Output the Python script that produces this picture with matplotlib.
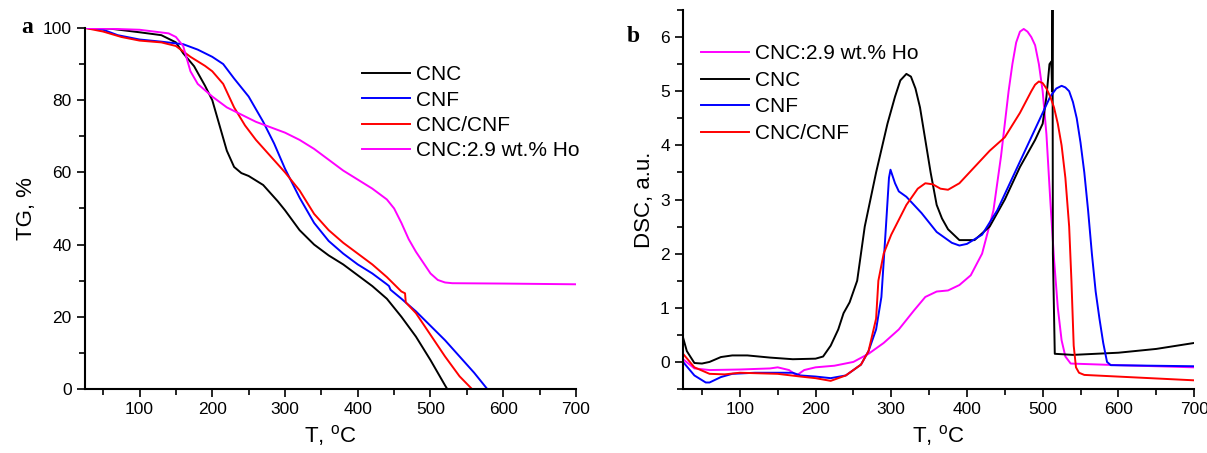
import matplotlib.pyplot as plt
from matplotlib.ticker import MultipleLocator
import numpy as np

plt.rcParams['font.family'] = ['Liberation Sans', 'DejaVu Sans']

# TG data (T in degC, TG in %)
tg_cnc_t = [25, 60, 100, 130, 150, 160, 175, 190, 200, 210, 220, 230, 240, 250, 270, 290, 300, 320, 340, 360, 380, 400, 420, 440, 460, 480, 500, 520, 523, 600, 700]
tg_cnc_y = [100, 99.8, 98.8, 98, 96, 93, 89.4, 84, 80, 73, 66, 61.5, 59.8, 59, 56.5, 52, 49.5, 44, 40, 37, 34.5, 31.5, 28.5, 25, 20, 14.5, 8, 1, 0, 0, 0]
tg_cnf_t = [25, 50, 70, 100, 130, 160, 180, 200, 215, 230, 250, 270, 285, 300, 310, 320, 340, 360, 380, 400, 420, 440, 443, 445, 460, 480, 500, 520, 540, 560, 578]
tg_cnf_y = [100, 99.5, 98, 96.8, 96.2, 95.5, 94, 92, 90, 86, 81, 74, 68, 61, 57, 53, 46, 41, 37.5, 34.5, 32, 29, 28.5, 27.5, 25, 21.5, 17.5, 13.5, 9, 4.5, 0]
tg_mix_t = [25, 50, 75, 100, 130, 150, 170, 190, 200, 215, 230, 245, 260, 280, 300, 320, 340, 360, 380, 400, 420, 440, 460, 465, 466, 480, 500, 520, 540, 557]
tg_mix_y = [100, 99, 97.5, 96.5, 96, 95, 92, 89.5, 88, 84.5, 78, 73, 69, 64.5, 60, 55, 48.5, 44, 40.5, 37.5, 34.5, 31, 27, 26.5, 24, 21, 15, 9, 3.5, 0]
tg_ho_t = [25, 100, 140, 150, 160, 170, 180, 200, 220, 240, 260, 280, 300, 320, 340, 360, 380, 400, 420, 440, 450, 460, 470, 480, 490, 500, 510, 520, 530, 600, 700]
tg_ho_y = [100, 99.5, 98.5, 97.5, 95, 88, 84.5, 81, 78, 76, 74, 72.5, 71, 69, 66.5, 63.5, 60.5, 58, 55.5, 52.5, 50, 46, 41.5, 38, 35, 32, 30.2, 29.5, 29.3, 29.2, 29]

# DSC data (a.u.)
dsc_cnc_t = [25, 30, 40, 50, 60, 75, 90, 110, 140, 170, 200, 210, 220, 230, 237, 245, 255, 265, 280, 295, 305, 312, 320, 326, 332, 338, 345, 352, 360, 367, 375, 390, 410, 430, 450, 470, 490, 500, 505, 509, 511.5, 512.5, 513, 513.5, 516, 540, 600, 650, 700]
dsc_cnc_y = [0.45, 0.2, -0.02, -0.03, 0.0, 0.09, 0.12, 0.12, 0.08, 0.05, 0.06, 0.1, 0.3, 0.6, 0.9, 1.1, 1.5, 2.5, 3.5, 4.4, 4.9, 5.2, 5.32, 5.27, 5.05, 4.7, 4.1, 3.5, 2.9, 2.65, 2.45, 2.25, 2.25, 2.5, 3.0, 3.6, 4.1, 4.4, 4.9, 5.5, 5.55, 5.0, 6.6, 2.0, 0.15, 0.13, 0.17, 0.24, 0.35]
dsc_cnf_t = [25, 40, 55, 60, 75, 90, 120, 170, 180, 200, 220, 240, 260, 270, 280, 287, 293, 297, 299, 305, 310, 320, 340, 360, 380, 390, 400, 420, 440, 460, 480, 500, 510, 518, 525, 530, 535, 540, 545, 550, 555, 560, 565, 570, 575, 580, 585, 590, 700]
dsc_cnf_y = [0.0, -0.25, -0.38, -0.38, -0.28, -0.22, -0.2, -0.2, -0.25, -0.27, -0.3, -0.25, -0.05, 0.2, 0.6, 1.2, 2.5, 3.4, 3.55, 3.3, 3.15, 3.05, 2.75, 2.4, 2.2, 2.15, 2.18, 2.35, 2.8, 3.4, 4.0, 4.6, 4.9, 5.05, 5.1, 5.07, 5.0, 4.8, 4.5, 4.05, 3.5, 2.8, 2.0, 1.3, 0.8, 0.35, 0.0, -0.06, -0.08]
dsc_mix_t = [25, 40, 60, 80, 100, 150, 180, 200, 220, 240, 260, 270, 280, 283, 290, 300, 320, 335, 345, 355, 365, 375, 390, 410, 430, 450, 470, 485, 490, 495, 500, 505, 510, 515, 520, 525, 530, 535, 538, 541, 544, 548, 555, 700]
dsc_mix_y = [0.15, -0.1, -0.22, -0.23, -0.2, -0.22, -0.27, -0.3, -0.35, -0.25, -0.05, 0.2, 0.8, 1.5, 2.0, 2.35, 2.9, 3.2, 3.3, 3.28, 3.2, 3.18, 3.3, 3.6, 3.9, 4.15, 4.6, 5.0, 5.12, 5.18, 5.15, 5.05, 4.9, 4.7, 4.4, 4.0, 3.4, 2.5, 1.5, 0.3, -0.1, -0.2, -0.24, -0.34]
dsc_ho_t = [25, 40, 60, 100, 140, 150, 165, 175, 185, 200, 225, 250, 270, 290, 310, 330, 345, 360, 375, 390, 405, 420, 435, 445, 455, 460, 465, 470, 475, 480, 485, 490, 495, 500, 505, 510, 515, 520, 525, 530, 537, 600, 700]
dsc_ho_y = [0.05, -0.12, -0.15, -0.14, -0.12, -0.1, -0.15, -0.25, -0.15, -0.1, -0.07, 0.0, 0.15, 0.35, 0.6, 0.95, 1.2, 1.3, 1.32, 1.42, 1.6, 2.0, 2.8, 3.8, 5.0, 5.5, 5.9, 6.1, 6.15, 6.1, 6.0, 5.85, 5.5, 5.0, 4.2, 3.0, 1.9, 1.0, 0.4, 0.1, -0.03, -0.06, -0.1]

fig = plt.figure(figsize=(12.07, 4.53), dpi=100)
ax1 = fig.add_axes([0.0704, 0.1413, 0.4068, 0.797])
ax2 = fig.add_axes([0.5659, 0.1413, 0.4234, 0.8366])

lw = 1.4
ax1.plot(tg_cnc_t, tg_cnc_y, color='black', lw=lw, label='CNC')
ax1.plot(tg_cnf_t, tg_cnf_y, color='blue', lw=lw, label='CNF')
ax1.plot(tg_mix_t, tg_mix_y, color='red', lw=lw, label='CNC/CNF')
ax1.plot(tg_ho_t, tg_ho_y, color='magenta', lw=lw, label='CNC:2.9 wt.% Ho')
ax1.set_xlim(25, 700)
ax1.set_ylim(0, 100)
ax1.set_xlabel('T, $^{\\mathregular{o}}$C', fontsize=16)
ax1.set_ylabel('TG, %', fontsize=16)
ax1.yaxis.set_major_locator(MultipleLocator(20))
ax1.yaxis.set_minor_locator(MultipleLocator(10))
ax1.legend(loc='upper left', bbox_to_anchor=(0.543, 0.925), frameon=False, fontsize=15,
           handlelength=2.3, handletextpad=0.3, labelspacing=0.3, borderpad=0)
ax1.text(-0.13, 1.0, 'a', transform=ax1.transAxes, fontsize=17, fontweight='bold',
         family='Liberation Serif', va='center')

ax2.plot(dsc_ho_t, dsc_ho_y, color='magenta', lw=lw, label='CNC:2.9 wt.% Ho')
ax2.plot(dsc_cnc_t, dsc_cnc_y, color='black', lw=lw, label='CNC')
ax2.plot(dsc_cnf_t, dsc_cnf_y, color='blue', lw=lw, label='CNF')
ax2.plot(dsc_mix_t, dsc_mix_y, color='red', lw=lw, label='CNC/CNF')
ax2.set_xlim(25, 700)
ax2.set_ylim(-0.5, 6.5)
ax2.set_xlabel('T, $^{\\mathregular{o}}$C', fontsize=16)
ax2.set_ylabel('DSC, a.u.', fontsize=16)
ax2.yaxis.set_major_locator(MultipleLocator(1))
ax2.yaxis.set_minor_locator(MultipleLocator(0.5))
ax2.legend(loc='upper left', bbox_to_anchor=(0.014, 0.937), frameon=False, fontsize=15,
           handlelength=2.3, handletextpad=0.3, labelspacing=0.36, borderpad=0)
ax2.text(-0.11, 0.93, 'b', transform=ax2.transAxes, fontsize=17, fontweight='bold',
         family='Liberation Serif', va='center')

for ax in (ax1, ax2):
    ax.spines['top'].set_visible(False)
    ax.spines['right'].set_visible(False)
    ax.spines['left'].set_linewidth(1.5)
    ax.spines['bottom'].set_linewidth(1.5)
    ax.xaxis.set_major_locator(MultipleLocator(100))
    ax.xaxis.set_minor_locator(MultipleLocator(50))
    ax.tick_params(which='major', direction='out', length=6, width=1.2, labelsize=12.5)
    ax.tick_params(which='minor', direction='out', length=4, width=1.2)

plt.savefig('out.png', dpi=100)
plt.close()
